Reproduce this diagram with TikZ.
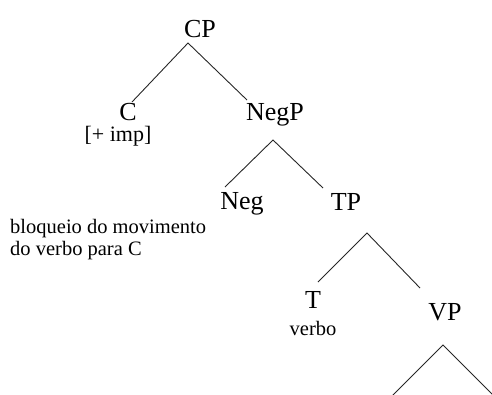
\documentclass[tikz,border=0pt]{standalone}
\usepackage{fontspec}
\setmainfont{Liberation Serif}
\begin{document}
\begin{tikzpicture}[x=1pt,y=-1pt,
  cat/.style={font=\fontsize{26}{29}\selectfont, anchor=base, inner sep=0pt},
  note/.style={font=\fontsize{20.5}{23}\selectfont, anchor=base, inner sep=0pt},
  notel/.style={note, anchor=base west},
  branch/.style={draw=black!85, line width=0.9pt}]
\useasboundingbox (0,0) rectangle (492,394);

% category labels
\node[cat] (CP)   at (200,37)  {CP};
\node[cat] (C)    at (128,120) {C};
\node[note, font=\fontsize{22}{25}\selectfont] (Cf) at (118,141) {[+ imp]};
\node[cat] (NegP) at (275,120) {NegP};
\node[cat] (Neg)  at (242,209) {Neg};
\node[cat] (TP)   at (346,210) {TP};
\node[cat] (T)    at (313,308) {T};
\node[note] (Tv)  at (313,335) {verbo};
\node[cat] (VP)   at (445,320) {VP};

% comment on head movement
\node[notel] (bl1) at (10,233) {bloqueio do movimento};
\node[notel] (bl2) at (10,255) {do verbo para C};

% branch points
\coordinate (cpT)   at (188,43);
\coordinate (cpL)   at (132,102);
\coordinate (cpR)   at (247,100);
\coordinate (negT)  at (273,140);
\coordinate (negL)  at (225,187);
\coordinate (negR)  at (323,188);
\coordinate (tpT)   at (367,233);
\coordinate (tpL)   at (318,282);
\coordinate (tpR)   at (420,288);
\coordinate (vpT)   at (443,345);
\coordinate (vpL)   at (392,396);
\coordinate (vpR)   at (494,396);

% branches
\draw[branch] (cpL) -- (cpT) -- (cpR);
\draw[branch] (negL) -- (negT) -- (negR);
\draw[branch] (tpL) -- (tpT) -- (tpR);
\draw[branch] (vpL) -- (vpT) -- (vpR);
\end{tikzpicture}
\end{document}
